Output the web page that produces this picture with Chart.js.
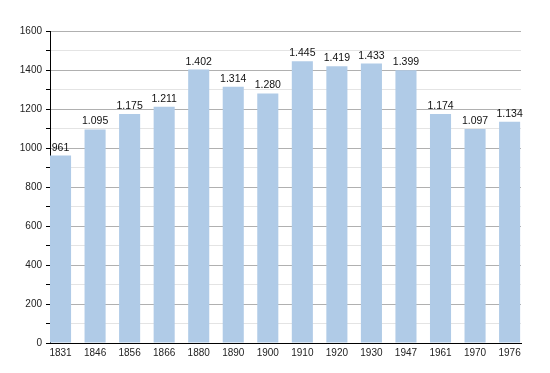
<!DOCTYPE html>
<html>
<head>
<meta charset="utf-8">
<script src="https://cdn.jsdelivr.net/npm/chart.js@4"></script>
<style>
  html, body { margin: 0; padding: 0; background: #fff; }
  #wrap { width: 550px; height: 373px; }
</style>
</head>
<body>
<div id="wrap"><canvas id="myChart" width="550" height="373"></canvas></div>
<script>
const years = ['1831', '1846', '1856', '1866', '1880', '1890', '1900', '1910', '1920', '1930', '1947', '1961', '1970', '1976'];
const population = [961, 1095, 1175, 1211, 1402, 1314, 1280, 1445, 1419, 1433, 1399, 1174, 1097, 1134];
const yMax = 1600;

const barColor = 'rgb(176, 203, 231)';

// "1095" -> "1.095"
function fmt(v) {
  return String(v).replace(/\B(?=(\d{3})+(?!\d))/g, '.');
}

const valueLabels = {
  id: 'valueLabels',
  afterDatasetsDraw(chart) {
    const c = chart.ctx;
    const meta = chart.getDatasetMeta(0);
    c.save();
    c.font = '10.5px "Liberation Sans", Arial, sans-serif';
    c.fillStyle = '#111';
    c.textAlign = 'center';
    c.textBaseline = 'alphabetic';
    meta.data.forEach((bar, i) => {
      c.fillText(fmt(population[i]), bar.x, bar.y - 5);
    });
    c.restore();
  }
};

const ctx = document.getElementById('myChart');

new Chart(ctx, {
  type: 'bar',
  data: {
    datasets: [{
      data: population.map((v, i) => ({ x: i, y: v })),
      backgroundColor: barColor,
      borderWidth: 0,
      categoryPercentage: 1,
      barPercentage: 0.61
    }]
  },
  options: {
    responsive: false,
    animation: false,
    layout: { padding: { left: 0, top: 31, right: 29, bottom: 0 } },
    plugins: {
      legend: { display: false },
      tooltip: { enabled: false }
    },
    scales: {
      x: {
        type: 'linear',
        offset: false,
        min: -0.305,
        max: 13.33,
        grid: { display: false, drawTicks: false, offset: false },
        border: { display: true, color: '#000', width: 1 },
        afterFit: (s) => { s.height = 30; },
        ticks: {
          stepSize: 1,
          includeBounds: false,
          padding: 4,
          color: '#222',
          font: { family: '"Liberation Sans", Arial, sans-serif', size: 10 },
          callback: (v) => years[v] || ''
        }
      },
      y: {
        min: 0,
        max: yMax,
        afterFit: (s) => { s.width = 50; },
        border: { display: true, color: '#000', width: 1 },
        grid: {
          color: (c) => (c.tick && c.tick.value % 200 === 0) ? '#b0b0b0' : '#e4e4e4',
          tickColor: '#000',
          tickLength: 4,
          lineWidth: 1
        },
        ticks: {
          stepSize: 100,
          padding: 4,
          color: '#222',
          font: { family: '"Liberation Sans", Arial, sans-serif', size: 10 },
          callback: (v) => v % 200 === 0 ? String(v) : ''
        }
      }
    }
  },
  plugins: [valueLabels]
});
</script>
</body>
</html>
